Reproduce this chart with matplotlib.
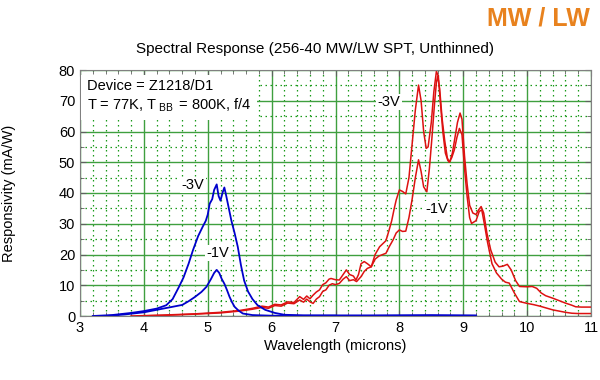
import matplotlib
matplotlib.use("Agg")
import matplotlib.pyplot as plt
from matplotlib.ticker import MultipleLocator

plt.rcParams["font.family"] = ["Liberation Sans", "DejaVu Sans"]

# MW band (blue)
mw_3v_wl = [3.2, 3.5, 3.8, 4.0, 4.2, 4.35, 4.45, 4.55, 4.62, 4.7, 4.77, 4.85, 4.92, 4.97,
            5.0, 5.03, 5.07, 5.1, 5.14, 5.17, 5.2, 5.23, 5.26, 5.29, 5.33, 5.37, 5.42,
            5.47, 5.52, 5.57, 5.63, 5.7, 5.78, 5.9, 6.05, 6.2, 6.5, 7.5, 8.5, 9.2]
mw_3v = [0, 0.3, 1.0, 1.6, 2.4, 3.5, 5.5, 9.5, 12.5, 17, 21.5, 26, 29, 31,
         33, 36.5, 38, 41, 42.8, 39, 37.5, 40, 41.8, 39, 35, 31, 27,
         22.5, 16.5, 11.5, 8, 5.5, 3.5, 2.0, 1.0, 0.4, 0.2, 0.2, 0.3, 0.2]

mw_1v_wl = [3.4, 3.7, 4.0, 4.25, 4.45, 4.6, 4.7, 4.8, 4.9, 4.98, 5.05, 5.1, 5.14, 5.18,
            5.22, 5.26, 5.3, 5.34, 5.38, 5.42, 5.48, 5.55, 5.7, 6.0, 7.0]
mw_1v = [0, 0.5, 1.2, 2.2, 3.0, 3.6, 4.8, 6.2, 7.8, 9.5, 12, 14, 15, 14,
         12, 10.5, 8.5, 6.3, 4.5, 3.0, 1.8, 0.8, 0.3, 0.1, 0.1]

# LW band (red)
lw_3v_wl = [3.8, 4.3, 4.8, 5.2, 5.5, 5.7, 5.85, 5.95, 6.05, 6.15, 6.25, 6.35, 6.44, 6.5,
            6.55, 6.6, 6.65, 6.7, 6.75, 6.8, 6.85, 6.9, 6.93, 7.0, 7.06, 7.12, 7.17, 7.22,
            7.28, 7.32, 7.36, 7.4, 7.45, 7.5, 7.56, 7.62, 7.69, 7.74, 7.79, 7.84, 7.88,
            7.92, 7.95, 8.0, 8.05, 8.1, 8.15, 8.2, 8.25, 8.3, 8.34, 8.38, 8.42, 8.45, 8.5,
            8.54, 8.58, 8.61, 8.64, 8.68, 8.72, 8.76, 8.79, 8.83, 8.87, 8.91, 8.95, 8.98,
            9.02, 9.06, 9.1, 9.15, 9.2, 9.24, 9.28, 9.32, 9.37, 9.43, 9.5, 9.56, 9.62,
            9.69, 9.75, 9.82, 9.88, 10.0, 10.08, 10.15, 10.22, 10.29, 10.4, 10.5, 10.6,
            10.7, 10.76, 10.85, 10.97, 11.0]
lw_3v = [0, 0.3, 0.7, 1.2, 1.8, 2.5, 3.2, 2.9, 3.8, 3.6, 4.6, 4.4, 6.3, 5.4,
         6.5, 5.6, 6.8, 7.8, 8.5, 10.2, 10.8, 12.0, 12.2, 11.8, 11.7, 13.5, 15, 13.5,
         13, 11.7, 13.5, 17, 17.7, 17, 16, 20, 22.5, 23.5, 24.5, 28, 31,
         35, 37.7, 41, 40.5, 39.7, 45, 56, 67, 75.1, 70, 60, 54.5, 55, 63,
         73, 79.6, 78, 70, 60, 53, 50.5, 50.2, 53, 58, 63, 66, 64,
         52, 43, 36, 33.5, 33, 34.5, 35.6, 33.5, 27, 21.5, 17.5, 16, 16.2,
         16.8, 15, 11.5, 9.6, 9.5, 9.6, 9.0, 7.5, 6.6, 5.8, 5.0, 4.2,
         3.5, 3.0, 2.9, 2.9, 2.9]

lw_1v_wl = [3.9, 4.3, 4.8, 5.2, 5.5, 5.7, 5.85, 5.95, 6.05, 6.15, 6.25, 6.35, 6.44, 6.5,
            6.55, 6.6, 6.65, 6.7, 6.75, 6.8, 6.85, 6.9, 6.95, 7.0, 7.06, 7.12, 7.17, 7.22,
            7.28, 7.33, 7.4, 7.45, 7.5, 7.56, 7.62, 7.68, 7.74, 7.79, 7.84, 7.9, 7.95,
            8.0, 8.05, 8.1, 8.15, 8.2, 8.25, 8.3, 8.34, 8.38, 8.43, 8.47, 8.51, 8.55, 8.58,
            8.6, 8.63, 8.67, 8.71, 8.75, 8.78, 8.82, 8.86, 8.9, 8.94, 8.98, 9.02, 9.06,
            9.1, 9.13, 9.2, 9.25, 9.29, 9.33, 9.38, 9.45, 9.52, 9.6, 9.66, 9.72, 9.8,
            9.88, 10.0, 10.1, 10.2, 10.3, 10.4, 10.5, 10.6, 10.7, 10.8, 10.9, 11.0]
lw_1v = [0, 0.2, 0.6, 1.0, 1.6, 2.2, 2.8, 2.5, 3.4, 3.2, 4.2, 4.0, 5.2, 4.5,
         5.5, 4.6, 4.1, 5.5, 6.3, 8.0, 8.5, 10.0, 10.5, 10.2, 10.6, 12.0, 12.8, 11.5,
         11.8, 11.2, 12.8, 14.5, 15.5, 16, 18.5, 19.5, 20.0, 20.4, 22.5, 24.7, 27,
         28, 27.5, 27.6, 32, 38, 45, 50.8, 47, 42, 40.4, 48, 58, 69, 76,
         78, 74, 64, 57, 51.5, 50, 51.5, 54, 58, 61, 59, 48, 39,
         32, 30.1, 31, 34, 34.5, 30, 24, 17, 14, 12, 11, 10.7, 7.5,
         4.7, 4.1, 3.7, 3.2, 2.6, 2.0, 1.6, 1.2, 0.9, 0.8, 0.8, 0.8]

fig = plt.figure(figsize=(6, 3.8), dpi=100)
ax = fig.add_axes([80 / 600, 1 - 316 / 380, 511 / 600, 246 / 380])

ax.set_xlim(3, 11)
ax.set_ylim(0, 80)
ax.xaxis.set_major_locator(MultipleLocator(1))
ax.xaxis.set_minor_locator(MultipleLocator(0.2))
ax.yaxis.set_major_locator(MultipleLocator(10))
ax.yaxis.set_minor_locator(MultipleLocator(5))

ax.grid(which="major", color="#3f9f3f", linewidth=1.0, linestyle="-")
ax.grid(which="minor", color="#1a9a1a", linewidth=0.9, linestyle=(0, (1.2, 2.8)))
ax.set_axisbelow(True)

for s in ax.spines.values():
    s.set_color("#808080")
ax.tick_params(which="both", direction="in", color="#606060", labelsize=10.5,
               top=True, right=True)
ax.tick_params(which="major", length=4)
ax.tick_params(which="minor", length=3)

ax.plot(lw_3v_wl, lw_3v, color="#dd1111", linewidth=1.1)
ax.plot(lw_1v_wl, lw_1v, color="#dd1111", linewidth=1.1)
ax.plot(mw_3v_wl, mw_3v, color="#0000cc", linewidth=1.3)
ax.plot(mw_1v_wl, mw_1v, color="#0000cc", linewidth=1.3)

box = dict(facecolor="white", edgecolor="none", pad=1)
ax.text(4.77, 42.6, "-3V", fontsize=10.5, ha="center", va="center", bbox=box)
ax.text(5.16, 20.5, "-1V", fontsize=10.5, ha="center", va="center", bbox=box)
ax.text(7.84, 69.6, "-3V", fontsize=10.5, ha="center", va="center", bbox=box)
ax.text(8.58, 34.8, "-1V", fontsize=10.5, ha="center", va="center", bbox=box)

ax.text(0.013, 0.965,
        "Device = Z1218/D1\nT = 77K, T$\\,_{\\mathregular{BB}}\\,$ = 800K, f/4",
        transform=ax.transAxes, fontsize=10.5, ha="left", va="top",
        linespacing=1.3,
        bbox=dict(facecolor="white", edgecolor="none", pad=4))

ax.set_xlabel("Wavelength (microns)", fontsize=10.5, labelpad=3)
ax.set_ylabel("Responsivity (mA/W)", fontsize=10.5)
ax.yaxis.set_label_coords(-0.125, 0.5)

fig.text(315 / 600, 1 - 49 / 380, "Spectral Response (256-40 MW/LW SPT, Unthinned)",
         fontsize=11, ha="center", va="center")
fig.text(590 / 600, 1 - 18 / 380, "MW / LW", fontsize=18, fontweight="bold",
         color="#e8821e", ha="right", va="center")

fig.savefig("out.png", dpi=100)
